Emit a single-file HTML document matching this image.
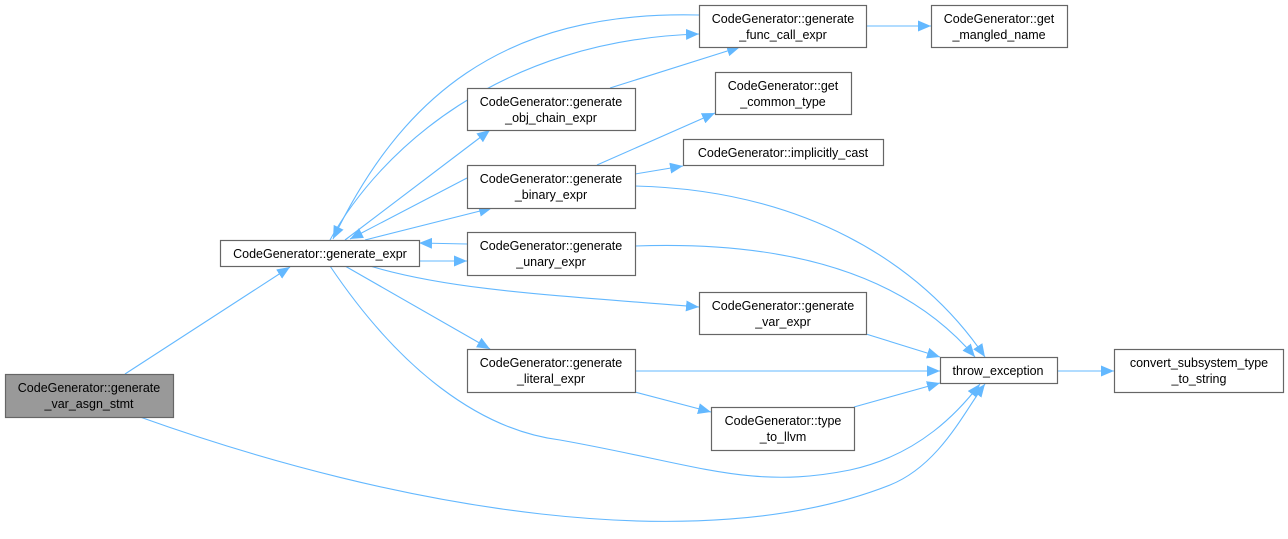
<!DOCTYPE html>
<html><head><meta charset="utf-8"><style>
body{margin:0;background:#fff;}
svg text{font-family:"Liberation Sans",sans-serif;font-size:12.5px;fill:#000;}
</style></head><body>
<svg width="1288" height="534" viewBox="0 0 1288 534" xmlns="http://www.w3.org/2000/svg">
<defs><marker id="a" viewBox="0 0 10 10" refX="10" refY="5" markerWidth="13" markerHeight="13" markerUnits="userSpaceOnUse" orient="auto"><path d="M0,0.8 L10,5 L0,9.2 z" fill="#63b8ff"/></marker></defs>
<g fill="none" stroke="#63b8ff" stroke-width="1.1" marker-end="url(#a)">
<path d="M125,374 L290,267"/>
<path d="M140,417 C400,510 700,560 890,485 C940,465 965,410 985,384"/>
<path d="M330,240 C380,150 500,40 699,34"/>
<path d="M699,15 C500,10 400,100 333,239"/>
<path d="M345,240 L490,130"/>
<path d="M610,88 L740,47"/>
<path d="M365,240 L492,208"/>
<path d="M467,178 L350,239"/>
<path d="M467,244 L419,243"/>
<path d="M419,261 L467,261"/>
<path d="M370,266 C450,290 550,295 699,307"/>
<path d="M345,266 L490,349"/>
<path d="M330,266 C400,370 480,430 560,440 C700,465 750,490 850,470 C920,455 960,410 980,384"/>
<path d="M597,165 L715,113"/>
<path d="M635,174 L683,166"/>
<path d="M635,186 C800,190 920,260 985,357"/>
<path d="M635,246 C800,240 910,280 975,357"/>
<path d="M866,334 L940,357"/>
<path d="M635,371 L940,371"/>
<path d="M635,392 L711,412"/>
<path d="M854,407 L940,383"/>
<path d="M1057,371 L1114,371"/>
<path d="M866,26 L931,26"/>
</g>
<g stroke="#666" stroke-width="1.2">
<rect x="5.5" y="374.5" width="168" height="43" fill="#999"/>
<rect x="220.5" y="240.5" width="199" height="26" fill="#fff"/>
<rect x="699.5" y="5.5" width="167" height="42" fill="#fff"/>
<rect x="931.5" y="5.5" width="136" height="42" fill="#fff"/>
<rect x="467.5" y="88.5" width="168" height="42" fill="#fff"/>
<rect x="715.5" y="72.5" width="136" height="42" fill="#fff"/>
<rect x="683.5" y="139.5" width="200" height="26" fill="#fff"/>
<rect x="467.5" y="165.5" width="168" height="43" fill="#fff"/>
<rect x="467.5" y="232.5" width="168" height="43" fill="#fff"/>
<rect x="699.5" y="292.5" width="167" height="42" fill="#fff"/>
<rect x="467.5" y="349.5" width="168" height="43" fill="#fff"/>
<rect x="940.5" y="357.5" width="117" height="26" fill="#fff"/>
<rect x="1114.5" y="349.5" width="169" height="43" fill="#fff"/>
<rect x="711.5" y="407.5" width="143" height="43" fill="#fff"/>
</g>
<g text-anchor="middle">
<text x="89" y="392">CodeGenerator::generate</text><text x="89" y="408">_var_asgn_stmt</text>
<text x="320" y="258">CodeGenerator::generate_expr</text>
<text x="783" y="23">CodeGenerator::generate</text><text x="783" y="39">_func_call_expr</text>
<text x="999" y="23">CodeGenerator::get</text><text x="999" y="39">_mangled_name</text>
<text x="551" y="106">CodeGenerator::generate</text><text x="551" y="122">_obj_chain_expr</text>
<text x="783" y="90">CodeGenerator::get</text><text x="783" y="106">_common_type</text>
<text x="783" y="157">CodeGenerator::implicitly_cast</text>
<text x="551" y="183">CodeGenerator::generate</text><text x="551" y="199">_binary_expr</text>
<text x="551" y="250">CodeGenerator::generate</text><text x="551" y="266">_unary_expr</text>
<text x="783" y="310">CodeGenerator::generate</text><text x="783" y="326">_var_expr</text>
<text x="551" y="367">CodeGenerator::generate</text><text x="551" y="383">_literal_expr</text>
<text x="998" y="375">throw_exception</text>
<text x="1199" y="367">convert_subsystem_type</text><text x="1199" y="383">_to_string</text>
<text x="783" y="425">CodeGenerator::type</text><text x="783" y="441">_to_llvm</text>
</g>
</svg>
</body></html>
